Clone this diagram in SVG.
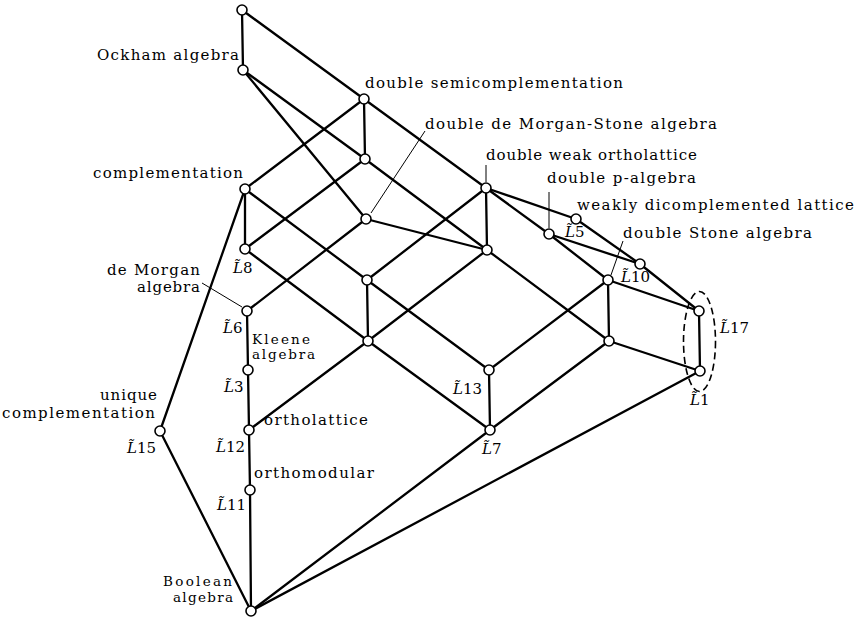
<svg xmlns="http://www.w3.org/2000/svg" width="858" height="621" viewBox="0 0 858 621">
<style>
.e{stroke:#000;stroke-width:2.3;fill:none;stroke-linecap:round}
.ld{stroke:#000;stroke-width:1;fill:none}
.n{fill:#fff;stroke:#000;stroke-width:1.6}
text{font-family:"DejaVu Serif","Liberation Serif",serif;font-size:15px;fill:#000}
.it{font-style:italic}
.sm{font-size:13.5px}
</style>
<rect width="858" height="621" fill="#fff"/>
<g id="connectors">
<line class="e" x1="242" y1="10" x2="243" y2="70"/>
<line class="e" x1="242" y1="10" x2="364" y2="99"/>
<line class="e" x1="243" y1="70" x2="365" y2="159"/>
<line class="e" x1="243" y1="70" x2="366" y2="219"/>
<line class="e" x1="364" y1="99" x2="245" y2="189"/>
<line class="e" x1="364" y1="99" x2="365" y2="159"/>
<line class="e" x1="364" y1="99" x2="486" y2="188"/>
<line class="e" x1="245" y1="189" x2="245" y2="249"/>
<line class="e" x1="245" y1="189" x2="367" y2="280"/>
<line class="e" x1="245" y1="189" x2="160" y2="431"/>
<line class="e" x1="365" y1="159" x2="245" y2="249"/>
<line class="e" x1="365" y1="159" x2="487" y2="250"/>
<line class="e" x1="366" y1="219" x2="247" y2="311"/>
<line class="e" x1="366" y1="219" x2="487" y2="250"/>
<line class="e" x1="486" y1="188" x2="487" y2="250"/>
<line class="e" x1="486" y1="188" x2="367" y2="280"/>
<line class="e" x1="486" y1="188" x2="576" y2="219"/>
<line class="e" x1="486" y1="188" x2="549" y2="234"/>
<line class="e" x1="549" y1="234" x2="608" y2="280"/>
<line class="e" x1="549" y1="234" x2="640" y2="264"/>
<line class="e" x1="576" y1="219" x2="640" y2="264"/>
<line class="e" x1="640" y1="264" x2="699" y2="311"/>
<line class="e" x1="608" y1="280" x2="699" y2="311"/>
<line class="e" x1="608" y1="280" x2="609" y2="341"/>
<line class="e" x1="608" y1="280" x2="489" y2="370"/>
<line class="e" x1="245" y1="249" x2="368" y2="341"/>
<line class="e" x1="487" y1="250" x2="368" y2="341"/>
<line class="e" x1="487" y1="250" x2="609" y2="341"/>
<line class="e" x1="367" y1="280" x2="368" y2="341"/>
<line class="e" x1="367" y1="280" x2="489" y2="370"/>
<line class="e" x1="247" y1="311" x2="248" y2="370"/>
<line class="e" x1="248" y1="370" x2="249" y2="430"/>
<line class="e" x1="249" y1="430" x2="250" y2="490"/>
<line class="e" x1="250" y1="490" x2="251" y2="611"/>
<line class="e" x1="368" y1="341" x2="249" y2="430"/>
<line class="e" x1="368" y1="341" x2="490" y2="430"/>
<line class="e" x1="489" y1="370" x2="490" y2="430"/>
<line class="e" x1="609" y1="341" x2="490" y2="430"/>
<line class="e" x1="609" y1="341" x2="700" y2="371"/>
<line class="e" x1="699" y1="311" x2="700" y2="371"/>
<line class="e" x1="490" y1="430" x2="251" y2="611"/>
<line class="e" x1="700" y1="371" x2="251" y2="611"/>
<line class="e" x1="160" y1="431" x2="251" y2="611"/>
<line class="ld" x1="371" y1="213" x2="425" y2="131"/>
<line class="ld" x1="486" y1="165" x2="486" y2="182"/>
<line class="ld" x1="549" y1="192" x2="549" y2="228"/>
<line class="ld" x1="623" y1="241" x2="611" y2="275"/>
<line class="ld" x1="202" y1="283" x2="242" y2="307"/>
<ellipse cx="699.5" cy="341.5" rx="16" ry="50" fill="none" stroke="#000" stroke-width="1.6" stroke-dasharray="7 4"/>
</g>
<g id="top"><circle class="n" cx="242" cy="10" r="5"/></g>
<g id="ockham"><circle class="n" cx="243" cy="70" r="5"/><text x="97" y="60" textLength="142" lengthAdjust="spacing">Ockham algebra</text></g>
<g id="dsemi"><circle class="n" cx="364" cy="99" r="5"/><text x="365" y="88" textLength="258" lengthAdjust="spacing">double semicomplementation</text></g>
<g id="nA"><circle class="n" cx="365" cy="159" r="5"/></g>
<g id="dms"><circle class="n" cx="366" cy="219" r="5"/><text x="425" y="128.5" textLength="292" lengthAdjust="spacing">double de Morgan-Stone algebra</text></g>
<g id="dwo"><circle class="n" cx="486" cy="188" r="5"/><text x="486" y="159.5" textLength="211" lengthAdjust="spacing">double weak ortholattice</text></g>
<g id="compl"><circle class="n" cx="245" cy="189" r="5"/><text x="93" y="178" textLength="150" lengthAdjust="spacing">complementation</text></g>
<g id="L5"><circle class="n" cx="549" cy="234" r="5"/><text x="547" y="183" textLength="149" lengthAdjust="spacing">double p-algebra</text><text x="565" y="237"><tspan class="it">L&#x303;</tspan>5</text></g>
<g id="wdl"><circle class="n" cx="576" cy="219" r="5"/><text x="577" y="210" textLength="277" lengthAdjust="spacing">weakly dicomplemented lattice</text></g>
<g id="L10"><circle class="n" cx="640" cy="264" r="5"/><text x="621" y="282"><tspan class="it">L&#x303;</tspan>10</text></g>
<g id="dstone"><circle class="n" cx="608" cy="280" r="5"/><text x="623" y="238" textLength="189" lengthAdjust="spacing">double Stone algebra</text></g>
<g id="L8"><circle class="n" cx="245" cy="249" r="5"/><text x="233" y="273"><tspan class="it">L&#x303;</tspan>8</text></g>
<g id="nB"><circle class="n" cx="487" cy="250" r="5"/></g>
<g id="nC"><circle class="n" cx="367" cy="280" r="5"/></g>
<g id="L6"><circle class="n" cx="247" cy="311" r="5"/><text x="107" y="275" textLength="93" lengthAdjust="spacing">de Morgan</text><text x="137" y="292" textLength="63" lengthAdjust="spacing">algebra</text><text x="223" y="333"><tspan class="it">L&#x303;</tspan>6</text></g>
<g id="nD"><circle class="n" cx="368" cy="341" r="5"/></g>
<g id="nE"><circle class="n" cx="609" cy="341" r="5"/></g>
<g id="L17"><circle class="n" cx="699" cy="311" r="5"/><text x="720" y="333"><tspan class="it">L&#x303;</tspan>17</text></g>
<g id="L3"><circle class="n" cx="248" cy="370" r="5"/><text class="sm" x="252" y="343.5" textLength="58" lengthAdjust="spacing">Kleene</text><text class="sm" x="252" y="359" textLength="63" lengthAdjust="spacing">algebra</text><text x="224" y="392"><tspan class="it">L&#x303;</tspan>3</text></g>
<g id="L13"><circle class="n" cx="489" cy="370" r="5"/><text x="453" y="394"><tspan class="it">L&#x303;</tspan>13</text></g>
<g id="L1"><circle class="n" cx="700" cy="371" r="5"/><text x="690" y="405"><tspan class="it">L&#x303;</tspan>1</text></g>
<g id="L15"><circle class="n" cx="160" cy="431" r="5"/><text x="100" y="400" textLength="57" lengthAdjust="spacing">unique</text><text x="2" y="417.5" textLength="153" lengthAdjust="spacing">complementation</text><text x="127" y="453"><tspan class="it">L&#x303;</tspan>15</text></g>
<g id="L12"><circle class="n" cx="249" cy="430" r="5"/><text x="264" y="425" textLength="104" lengthAdjust="spacing">ortholattice</text><text x="216" y="452"><tspan class="it">L&#x303;</tspan>12</text></g>
<g id="L7"><circle class="n" cx="490" cy="430" r="5"/><text x="482" y="454"><tspan class="it">L&#x303;</tspan>7</text></g>
<g id="L11"><circle class="n" cx="250" cy="490" r="5"/><text x="254" y="478" textLength="120" lengthAdjust="spacing">orthomodular</text><text x="217" y="510"><tspan class="it">L&#x303;</tspan>11</text></g>
<g id="boolean"><circle class="n" cx="251" cy="611" r="5"/><text class="sm" x="163" y="586" textLength="69" lengthAdjust="spacing">Boolean</text><text class="sm" x="173" y="602" textLength="60" lengthAdjust="spacing">algebra</text></g>
</svg>
